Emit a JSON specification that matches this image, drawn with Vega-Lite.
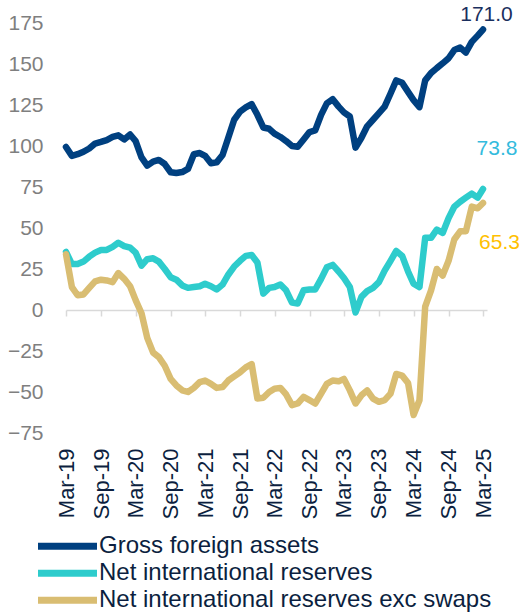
{
  "$schema": "https://vega.github.io/schema/vega-lite/v6.json",
  "width": 421,
  "height": 410,
  "autosize": {"type": "none"},
  "padding": {"left": 66, "top": 23, "right": 35, "bottom": 179},
  "background": "white",
  "config": {"view": {"stroke": null}, "font": "Liberation Sans"},
  "data": {"values": [
    {"date": "2019-03-01", "Gross foreign assets": 99.4, "Net international reserves": 35.4, "Net international reserves exc swaps": 34},
    {"date": "2019-04-01", "Gross foreign assets": 94, "Net international reserves": 28, "Net international reserves exc swaps": 14},
    {"date": "2019-05-01", "Gross foreign assets": 95, "Net international reserves": 28, "Net international reserves exc swaps": 9},
    {"date": "2019-06-01", "Gross foreign assets": 96.5, "Net international reserves": 29.5, "Net international reserves exc swaps": 9.5},
    {"date": "2019-07-01", "Gross foreign assets": 98.5, "Net international reserves": 32.5, "Net international reserves exc swaps": 13.5},
    {"date": "2019-08-01", "Gross foreign assets": 101.5, "Net international reserves": 35, "Net international reserves exc swaps": 17.5},
    {"date": "2019-09-01", "Gross foreign assets": 102.5, "Net international reserves": 36.6, "Net international reserves exc swaps": 18.5},
    {"date": "2019-10-01", "Gross foreign assets": 103.6, "Net international reserves": 36.6, "Net international reserves exc swaps": 18},
    {"date": "2019-11-01", "Gross foreign assets": 105.5, "Net international reserves": 38.5, "Net international reserves exc swaps": 17},
    {"date": "2019-12-01", "Gross foreign assets": 106.5, "Net international reserves": 41, "Net international reserves exc swaps": 22.5},
    {"date": "2020-01-01", "Gross foreign assets": 104, "Net international reserves": 39, "Net international reserves exc swaps": 19},
    {"date": "2020-02-01", "Gross foreign assets": 107, "Net international reserves": 38, "Net international reserves exc swaps": 14.5},
    {"date": "2020-03-01", "Gross foreign assets": 103, "Net international reserves": 35, "Net international reserves exc swaps": 6},
    {"date": "2020-04-01", "Gross foreign assets": 93, "Net international reserves": 27, "Net international reserves exc swaps": -2},
    {"date": "2020-05-01", "Gross foreign assets": 88, "Net international reserves": 31, "Net international reserves exc swaps": -17},
    {"date": "2020-06-01", "Gross foreign assets": 90.5, "Net international reserves": 31.5, "Net international reserves exc swaps": -26},
    {"date": "2020-07-01", "Gross foreign assets": 91.5, "Net international reserves": 29.5, "Net international reserves exc swaps": -28.7},
    {"date": "2020-08-01", "Gross foreign assets": 89, "Net international reserves": 25, "Net international reserves exc swaps": -34},
    {"date": "2020-09-01", "Gross foreign assets": 84, "Net international reserves": 20, "Net international reserves exc swaps": -42},
    {"date": "2020-10-01", "Gross foreign assets": 83.5, "Net international reserves": 18.5, "Net international reserves exc swaps": -46},
    {"date": "2020-11-01", "Gross foreign assets": 84.1, "Net international reserves": 15, "Net international reserves exc swaps": -49},
    {"date": "2020-12-01", "Gross foreign assets": 86, "Net international reserves": 13.5, "Net international reserves exc swaps": -50},
    {"date": "2021-01-01", "Gross foreign assets": 95, "Net international reserves": 14, "Net international reserves exc swaps": -47.5},
    {"date": "2021-02-01", "Gross foreign assets": 95.7, "Net international reserves": 14.5, "Net international reserves exc swaps": -44},
    {"date": "2021-03-01", "Gross foreign assets": 94, "Net international reserves": 16, "Net international reserves exc swaps": -43},
    {"date": "2021-04-01", "Gross foreign assets": 89.5, "Net international reserves": 14.5, "Net international reserves exc swaps": -45},
    {"date": "2021-05-01", "Gross foreign assets": 90, "Net international reserves": 12.5, "Net international reserves exc swaps": -47.5},
    {"date": "2021-06-01", "Gross foreign assets": 94.5, "Net international reserves": 15.5, "Net international reserves exc swaps": -47},
    {"date": "2021-07-01", "Gross foreign assets": 105, "Net international reserves": 21.5, "Net international reserves exc swaps": -43},
    {"date": "2021-08-01", "Gross foreign assets": 116, "Net international reserves": 26.5, "Net international reserves exc swaps": -40.5},
    {"date": "2021-09-01", "Gross foreign assets": 121, "Net international reserves": 30, "Net international reserves exc swaps": -38},
    {"date": "2021-10-01", "Gross foreign assets": 123.5, "Net international reserves": 33, "Net international reserves exc swaps": -35},
    {"date": "2021-11-01", "Gross foreign assets": 125.5, "Net international reserves": 33.5, "Net international reserves exc swaps": -33},
    {"date": "2021-12-01", "Gross foreign assets": 119, "Net international reserves": 29, "Net international reserves exc swaps": -54},
    {"date": "2022-01-01", "Gross foreign assets": 111.3, "Net international reserves": 10, "Net international reserves exc swaps": -53.5},
    {"date": "2022-02-01", "Gross foreign assets": 110.5, "Net international reserves": 13.5, "Net international reserves exc swaps": -50},
    {"date": "2022-03-01", "Gross foreign assets": 107.5, "Net international reserves": 14, "Net international reserves exc swaps": -48},
    {"date": "2022-04-01", "Gross foreign assets": 105.5, "Net international reserves": 15.5, "Net international reserves exc swaps": -47.5},
    {"date": "2022-05-01", "Gross foreign assets": 103, "Net international reserves": 12, "Net international reserves exc swaps": -51.5},
    {"date": "2022-06-01", "Gross foreign assets": 100, "Net international reserves": 4.5, "Net international reserves exc swaps": -58},
    {"date": "2022-07-01", "Gross foreign assets": 99.5, "Net international reserves": 4, "Net international reserves exc swaps": -57},
    {"date": "2022-08-01", "Gross foreign assets": 104, "Net international reserves": 12, "Net international reserves exc swaps": -53},
    {"date": "2022-09-01", "Gross foreign assets": 108.5, "Net international reserves": 12.5, "Net international reserves exc swaps": -55},
    {"date": "2022-10-01", "Gross foreign assets": 109.5, "Net international reserves": 12.5, "Net international reserves exc swaps": -57},
    {"date": "2022-11-01", "Gross foreign assets": 119, "Net international reserves": 19, "Net international reserves exc swaps": -51},
    {"date": "2022-12-01", "Gross foreign assets": 126, "Net international reserves": 26, "Net international reserves exc swaps": -45},
    {"date": "2023-01-01", "Gross foreign assets": 128.5, "Net international reserves": 27.5, "Net international reserves exc swaps": -43},
    {"date": "2023-02-01", "Gross foreign assets": 124, "Net international reserves": 23.5, "Net international reserves exc swaps": -43.5},
    {"date": "2023-03-01", "Gross foreign assets": 120.5, "Net international reserves": 19.5, "Net international reserves exc swaps": -42},
    {"date": "2023-04-01", "Gross foreign assets": 118, "Net international reserves": 14, "Net international reserves exc swaps": -49},
    {"date": "2023-05-01", "Gross foreign assets": 99, "Net international reserves": -1.5, "Net international reserves exc swaps": -57},
    {"date": "2023-06-01", "Gross foreign assets": 105, "Net international reserves": 8, "Net international reserves exc swaps": -52},
    {"date": "2023-07-01", "Gross foreign assets": 112, "Net international reserves": 11.5, "Net international reserves exc swaps": -49},
    {"date": "2023-08-01", "Gross foreign assets": 116, "Net international reserves": 13.5, "Net international reserves exc swaps": -54},
    {"date": "2023-09-01", "Gross foreign assets": 120, "Net international reserves": 17, "Net international reserves exc swaps": -56},
    {"date": "2023-10-01", "Gross foreign assets": 124, "Net international reserves": 24, "Net international reserves exc swaps": -55},
    {"date": "2023-11-01", "Gross foreign assets": 132, "Net international reserves": 30, "Net international reserves exc swaps": -51},
    {"date": "2023-12-01", "Gross foreign assets": 140, "Net international reserves": 36, "Net international reserves exc swaps": -39},
    {"date": "2024-01-01", "Gross foreign assets": 138.5, "Net international reserves": 33, "Net international reserves exc swaps": -40},
    {"date": "2024-02-01", "Gross foreign assets": 133, "Net international reserves": 23.5, "Net international reserves exc swaps": -44.5},
    {"date": "2024-03-01", "Gross foreign assets": 128, "Net international reserves": 16, "Net international reserves exc swaps": -64},
    {"date": "2024-04-01", "Gross foreign assets": 123.7, "Net international reserves": 14, "Net international reserves exc swaps": -55},
    {"date": "2024-05-01", "Gross foreign assets": 140, "Net international reserves": 44, "Net international reserves exc swaps": 2},
    {"date": "2024-06-01", "Gross foreign assets": 144.5, "Net international reserves": 44, "Net international reserves exc swaps": 12},
    {"date": "2024-07-01", "Gross foreign assets": 147.5, "Net international reserves": 49, "Net international reserves exc swaps": 25},
    {"date": "2024-08-01", "Gross foreign assets": 150.4, "Net international reserves": 47, "Net international reserves exc swaps": 21},
    {"date": "2024-09-01", "Gross foreign assets": 153.5, "Net international reserves": 56, "Net international reserves exc swaps": 30},
    {"date": "2024-10-01", "Gross foreign assets": 158.5, "Net international reserves": 63, "Net international reserves exc swaps": 43},
    {"date": "2024-11-01", "Gross foreign assets": 160, "Net international reserves": 66, "Net international reserves exc swaps": 48},
    {"date": "2024-12-01", "Gross foreign assets": 157, "Net international reserves": 68.5, "Net international reserves exc swaps": 48},
    {"date": "2025-01-01", "Gross foreign assets": 163.5, "Net international reserves": 71, "Net international reserves exc swaps": 63},
    {"date": "2025-02-01", "Gross foreign assets": 167.3, "Net international reserves": 68.5, "Net international reserves exc swaps": 62},
    {"date": "2025-03-01", "Gross foreign assets": 171.0, "Net international reserves": 73.8, "Net international reserves exc swaps": 65.3}
  ]},
  "transform": [
    {"fold": ["Gross foreign assets", "Net international reserves", "Net international reserves exc swaps"], "as": ["series", "value"]}
  ],
  "encoding": {
    "x": {
      "field": "date",
      "type": "temporal",
      "scale": {
        "type": "utc",
        "domain": [
          {"year": 2019, "month": 3, "date": 1, "utc": true},
          {"year": 2025, "month": 3, "date": 22, "utc": true}
        ]
      },
      "axis": {
        "title": null,
        "orient": "bottom",
        "offset": -123,
        "grid": false,
        "format": "%b-%y",
        "values": [
          {"year": 2019, "month": 3, "date": 1, "utc": true},
          {"year": 2019, "month": 9, "date": 1, "utc": true},
          {"year": 2020, "month": 3, "date": 1, "utc": true},
          {"year": 2020, "month": 9, "date": 1, "utc": true},
          {"year": 2021, "month": 3, "date": 1, "utc": true},
          {"year": 2021, "month": 9, "date": 1, "utc": true},
          {"year": 2022, "month": 3, "date": 1, "utc": true},
          {"year": 2022, "month": 9, "date": 1, "utc": true},
          {"year": 2023, "month": 3, "date": 1, "utc": true},
          {"year": 2023, "month": 9, "date": 1, "utc": true},
          {"year": 2024, "month": 3, "date": 1, "utc": true},
          {"year": 2024, "month": 9, "date": 1, "utc": true},
          {"year": 2025, "month": 3, "date": 1, "utc": true}
        ],
        "domainColor": "#d9d9d9",
        "domainWidth": 1.5,
        "tickColor": "#d9d9d9",
        "tickWidth": 1.5,
        "tickSize": 6,
        "labelPadding": 132,
        "labelAngle": -90,
        "labelFont": "Liberation Sans",
        "labelFontSize": 22,
        "labelColor": "#0c1f40",
        "labelOverlap": false,
        "labelFlush": false,
        "labelBound": false
      }
    },
    "y": {
      "field": "value",
      "type": "quantitative",
      "scale": {"domain": [-75, 175], "nice": false, "zero": false},
      "axis": {
        "title": null,
        "values": [-75, -50, -25, 0, 25, 50, 75, 100, 125, 150, 175],
        "grid": false,
        "domain": false,
        "ticks": false,
        "tickSize": 0,
        "labelPadding": 23,
        "labelFont": "Liberation Sans",
        "labelFontSize": 21,
        "labelColor": "#7f7f7f"
      }
    }
  },
  "layer": [
    {
      "mark": {"type": "line", "strokeWidth": 6.5, "strokeCap": "round", "strokeJoin": "round"},
      "encoding": {
        "color": {
          "field": "series",
          "type": "nominal",
          "scale": {
            "domain": ["Gross foreign assets", "Net international reserves", "Net international reserves exc swaps"],
            "range": ["#004080", "#2ecccc", "#d9bd72"]
          },
          "legend": {
            "title": null,
            "orient": "none",
            "legendX": -31.5,
            "legendY": 510,
            "padding": 0,
            "clipHeight": 26.5,
            "rowPadding": 0,
            "symbolType": "stroke",
            "symbolSize": 3481,
            "symbolStrokeWidth": 7,
            "labelFont": "Liberation Sans",
            "labelFontSize": 24,
            "labelColor": "#0c1f40",
            "labelOffset": -1.5,
            "labelLimit": 0
          }
        }
      }
    },
    {
      "transform": [{"filter": "utcyear(datum.date) == 2025 && utcmonth(datum.date) == 2 && datum.series == 'Gross foreign assets'"}],
      "mark": {"type": "text", "font": "Liberation Sans", "fontSize": 21, "color": "#1a2f5e", "align": "center", "baseline": "middle", "dx": 3.5, "dy": -14.5},
      "encoding": {"text": {"field": "value", "type": "quantitative", "format": ".1f"}}
    },
    {
      "transform": [{"filter": "utcyear(datum.date) == 2025 && utcmonth(datum.date) == 2 && datum.series == 'Net international reserves'"}],
      "mark": {"type": "text", "font": "Liberation Sans", "fontSize": 21, "color": "#33bbdd", "align": "center", "baseline": "middle", "dx": 14, "dy": -39.5},
      "encoding": {"text": {"field": "value", "type": "quantitative", "format": ".1f"}}
    },
    {
      "transform": [{"filter": "utcyear(datum.date) == 2025 && utcmonth(datum.date) == 2 && datum.series == 'Net international reserves exc swaps'"}],
      "mark": {"type": "text", "font": "Liberation Sans", "fontSize": 21, "color": "#ffc000", "align": "center", "baseline": "middle", "dx": 16.5, "dy": 40.5},
      "encoding": {"text": {"field": "value", "type": "quantitative", "format": ".1f"}}
    }
  ]
}
